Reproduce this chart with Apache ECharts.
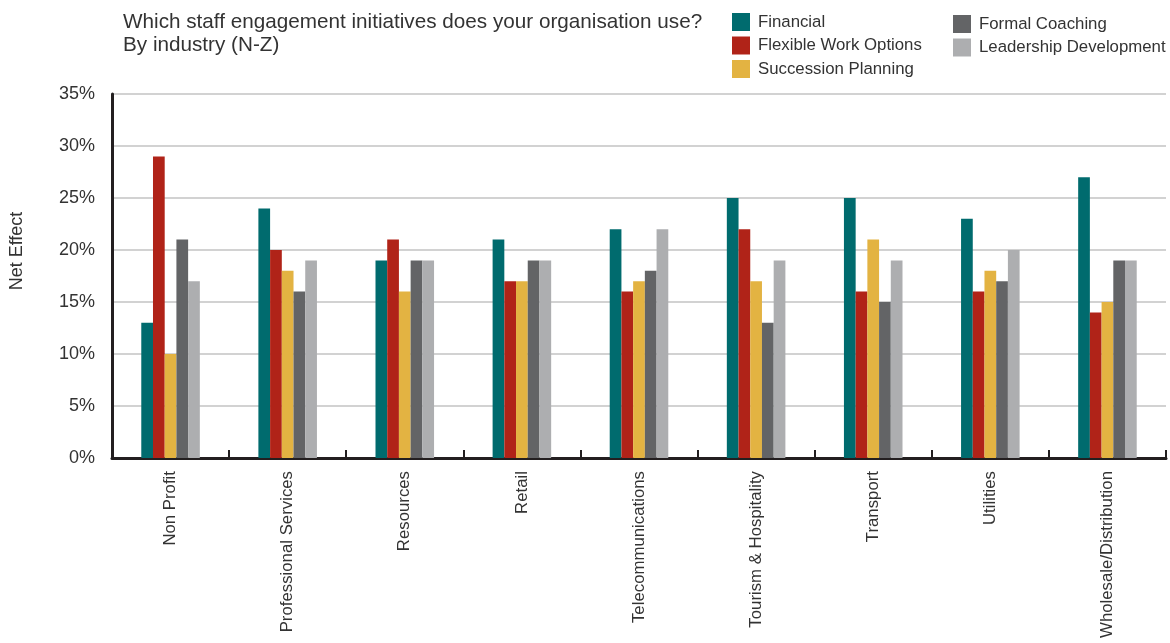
<!DOCTYPE html>
<html>
<head>
<meta charset="utf-8">
<script src="https://cdn.jsdelivr.net/npm/echarts@6/dist/echarts.min.js"></script>
<style>
  html, body { margin: 0; padding: 0; background: #fff; }
  #chart { width: 1170px; height: 643px; }
</style>
</head>
<body>
<div id="chart"></div>
<script>
// Industries (N-Z) along the category axis
const industries = [
  'Non Profit', 'Professional Services', 'Resources', 'Retail',
  'Telecommunications', 'Tourism & Hospitality', 'Transport',
  'Utilities', 'Wholesale/Distribution'
];

// Net effect (%) per initiative, one value per industry
const financial    = [13, 24, 19, 21, 22, 25, 25, 23, 27];
const flexibleWork = [29, 20, 21, 17, 16, 22, 16, 16, 14];
const succession   = [10, 18, 16, 17, 17, 17, 21, 18, 15];
const coaching     = [21, 16, 19, 19, 18, 13, 15, 17, 19];
const leadership   = [17, 19, 19, 19, 22, 19, 19, 20, 19];

const seriesNames = [
  'Financial', 'Flexible Work Options', 'Succession Planning',
  'Formal Coaching', 'Leadership Development'
];
const seriesData = [financial, flexibleWork, succession, coaching, leadership];
const colors = ['#006b6e', '#b02318', '#e3b342', '#636466', '#adaeb0'];

const FONT = '"Liberation Sans", Arial, Helvetica, sans-serif';
const TEXT = '#333333';

const chart = echarts.init(document.getElementById('chart'), null, { renderer: 'canvas' });

const legendBase = {
  orient: 'vertical',
  itemWidth: 18,
  itemHeight: 18,
  itemGap: 5.5,
  icon: 'rect',
  textStyle: { fontFamily: FONT, fontSize: 16.8, color: TEXT, padding: [0, 0, 0, 3] }
};

chart.setOption({
  animation: false,
  backgroundColor: '#ffffff',
  color: colors,
  textStyle: { fontFamily: FONT, color: TEXT },
  title: {
    text: 'Which staff engagement initiatives does your organisation use?\nBy industry (N-Z)',
    left: 118,
    top: 6,
    textStyle: { fontFamily: FONT, fontSize: 20.7, fontWeight: 'normal', color: TEXT, lineHeight: 23 }
  },
  legend: [
    Object.assign({ data: seriesNames.slice(0, 3), left: 727, top: 8 }, legendBase),
    Object.assign({ data: seriesNames.slice(3), left: 948, top: 10 }, legendBase)
  ],
  grid: { left: 112, right: 4, top: 94, bottom: 185, containLabel: false },
  xAxis: {
    type: 'category',
    data: industries,
    axisLine: { show: true, lineStyle: { color: '#231f20', width: 3 } },
    axisTick: { show: true, inside: true, length: 8, lineStyle: { color: '#231f20', width: 2 } },
    axisLabel: {
      rotate: 90,
      margin: 13,
      fontFamily: FONT,
      fontSize: 16.8,
      color: TEXT,
      interval: 0
    }
  },
  yAxis: {
    type: 'value',
    min: 0,
    max: 35,
    interval: 5,
    axisLine: { show: true, lineStyle: { color: '#231f20', width: 3 } },
    axisTick: { show: false },
    axisLabel: {
      formatter: '{value}%',
      margin: 17,
      fontFamily: FONT,
      fontSize: 18,
      color: TEXT
    },
    splitLine: { show: true, lineStyle: { color: '#d2d2d2', width: 2 } }
  },
  // Value-axis title, set a little above the plot's middle
  graphic: [{
    type: 'text',
    x: 17,
    y: 251,
    rotation: Math.PI / 2,
    style: {
      text: 'Net Effect',
      fontFamily: FONT,
      fontSize: 18,
      fill: TEXT,
      align: 'center',
      verticalAlign: 'middle'
    }
  }],
  series: seriesData.map((d, i) => ({
    name: seriesNames[i],
    type: 'bar',
    data: d,
    barGap: '0%',
    barCategoryGap: '50%',
    itemStyle: { color: colors[i] }
  }))
});
</script>
</body>
</html>
